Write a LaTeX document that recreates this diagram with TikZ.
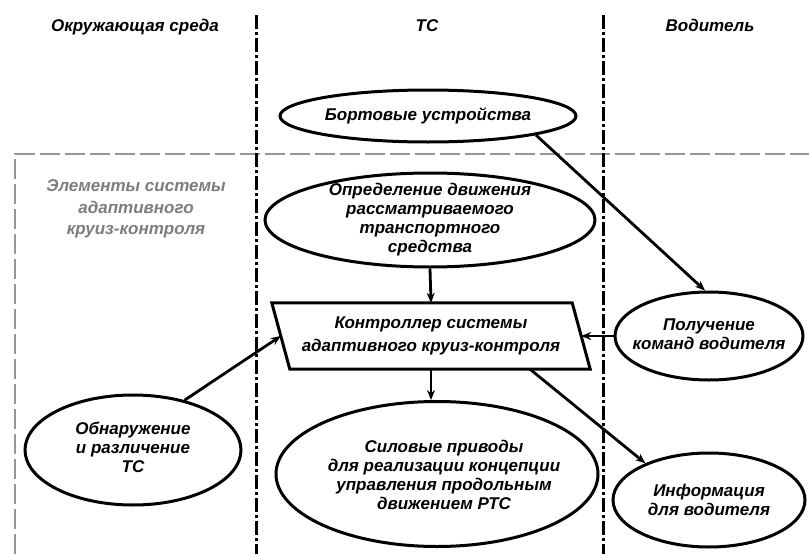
\documentclass[tikz,border=0pt]{standalone}
\usepackage{fontspec}
\setmainfont{Liberation Sans}
\usetikzlibrary{shapes.geometric,arrows.meta,calc}
\definecolor{frameg}{RGB}{150,150,150}
\definecolor{textg}{RGB}{125,125,125}
\begin{document}
\begin{tikzpicture}[x=1pt,y=-1pt,
  lbl/.style={font=\fontsize{17}{19}\selectfont\bfseries\itshape, align=center, inner sep=0pt},
  hdr/.style={font=\fontsize{17}{19}\selectfont\bfseries\itshape, inner sep=0pt, anchor=base},
  ell/.style={ellipse, draw, line width=3pt, inner sep=0pt},
  arr/.style={line width=2.8pt, -{Stealth[length=10pt,width=8pt]}},
  lane/.style={line width=3pt, dash pattern=on 14pt off 3pt on 3pt off 3pt},
  frame/.style={draw=frameg, line width=2.6pt, dash pattern=on 20pt off 5pt}]
\useasboundingbox (0,0) rectangle (809,554);
\fill[white] (0,0) rectangle (809,554);

% frame of the adaptive cruise control system
\draw[frame] (15,554) -- (15,154) -- (809,154);
\node[lbl, text=textg, font=\fontsize{17}{21.5}\selectfont\bfseries\itshape] (sysl) at (136,209) {Элементы системы\\адаптивного\\круиз-контроля};

% swim lanes
\draw[lane] (256,15) -- (256,554);
\draw[lane] (603,15) -- (603,554);

% headers
\node[hdr] (hdrL) at (135,31) {Окружающая среда};
\node[hdr] (hdrM) at (427,31) {ТС};
\node[hdr] (hdrR) at (710,31) {Водитель};

% ellipses
\node[ell, minimum width=296pt, minimum height=52pt] (bort) at (428,116) {};
\node[lbl] (bortt) at (428,116) {Бортовые устройства};

\node[ell, minimum width=330pt, minimum height=94pt] (opr) at (430,220) {};
\node[lbl] (oprt) at (430,220) {Определение движения\\рассматриваемого\\транспортного\\средства};

\node[ell, minimum width=188pt, minimum height=88pt] (poluch) at (709,336) {};
\node[lbl] (poluct) at (709,334) {Получение\\команд водителя};

\node[ell, minimum width=216pt, minimum height=110pt] (obn) at (133,450) {};
\node[lbl] (obnt) at (133,447) {Обнаружение\\и различение\\ТС};

\node[ell, minimum width=322pt, minimum height=145pt] (sil) at (437,474) {};
\node[lbl] (silt) at (444,475) {Силовые приводы\\для реализации концепции\\управления продольным\\движением РТС};

\node[ell, minimum width=192pt, minimum height=94pt] (info) at (709,500) {};
\node[lbl] (infot) at (709,500) {Информация\\для водителя};

% controller (parallelogram)
\node[minimum width=300pt, minimum height=66pt, inner sep=0pt] (ctrl) at (431,336) {};
\draw[line width=3pt, line join=miter] ([xshift=-9pt]ctrl.north west) -- ([xshift=-9pt]ctrl.north east)
  -- ([xshift=9pt]ctrl.south east) -- ([xshift=9pt]ctrl.south west) -- cycle;
\node[lbl, font=\fontsize{17}{23}\selectfont\bfseries\itshape] (ctrlt) at (431,336) {Контроллер системы\\адаптивного круиз-контроля};

% connectors
\draw[arr] (bort.-10) -- (poluch.95);
\draw[arr] (opr.south) -- (ctrl.north);
\draw[arr] (poluch.west) -- (ctrl.east);
\draw[arr] (obn.44) -- (ctrl.west);
\draw[arr] (ctrl.south) -- (ctrl.south |- sil.north);
\draw[arr] ([xshift=99pt]ctrl.south) -- (info.150);
\end{tikzpicture}
\end{document}
